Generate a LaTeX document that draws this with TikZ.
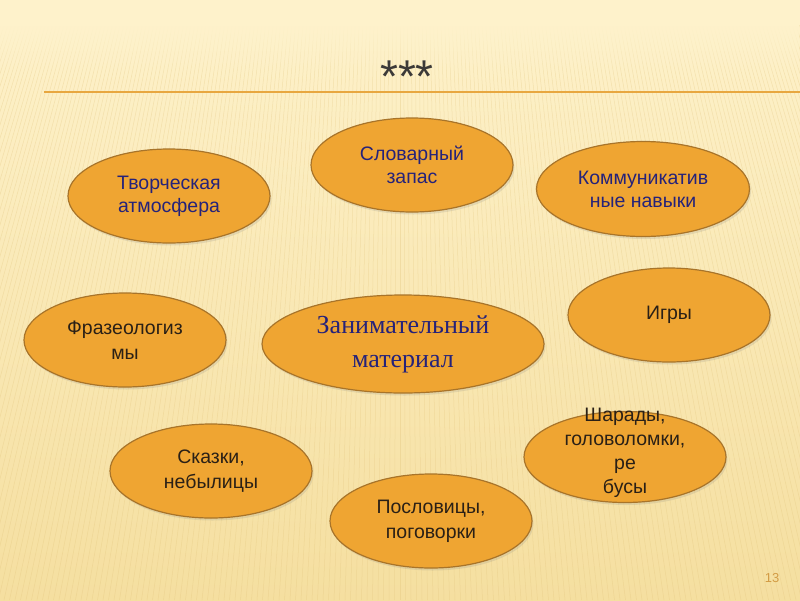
\documentclass[tikz,border=0pt]{standalone}
\usepackage{fontspec}
\setmainfont{Liberation Sans}
\newfontfamily\serifcyr{Liberation Serif}
\usetikzlibrary{positioning,shapes.geometric,shadows,fadings}

\definecolor{bgtop}{HTML}{FEF2CB}
\definecolor{bgbottom}{HTML}{F5DFA0}
\definecolor{stripe}{HTML}{E0C178}
\definecolor{bubblefill}{HTML}{EFA532}
\definecolor{bubbleline}{HTML}{A8742A}
\definecolor{navytext}{HTML}{25227A}
\definecolor{darktext}{HTML}{2A2016}
\definecolor{titletext}{HTML}{3C3A38}
\definecolor{rulecolor}{HTML}{E8A740}
\definecolor{pagenum}{HTML}{D39C45}

\begin{document}
\begin{tikzpicture}[x=1pt, y=-1pt,
  bubble/.style={draw=bubbleline, line width=1.2pt, fill=bubblefill, ellipse,
    minimum width=202pt, minimum height=94pt, inner sep=0pt, align=center,
    drop shadow={opacity=0.18, shadow xshift=1.5pt, shadow yshift=-2.5pt}},
  navy/.style={text=navytext, font=\fontsize{19.5}{23}\selectfont},
  dark/.style={text=darktext, font=\fontsize{19.5}{25}\selectfont}]
  % background with fanned stripes
  \shade[top color=bgtop, bottom color=bgbottom] (0,0) rectangle (800,600);
  \begin{scope}
    \clip (0,0) rectangle (800,600);
    \foreach \i in {-160,...,160}
      \draw[stripe, line width=0.5pt, opacity=0.32] (400+\i*1.2,-800) -- (400+\i*5.5,600);
  \end{scope}
  \fill[bgtop] (0,0) rectangle (800,25);
  \fill[bgtop, path fading=south] (0,25) rectangle (800,75);
  \useasboundingbox (0,0) rectangle (800,600);

  % title and rule
  \node[text=titletext, font=\fontsize{46}{50}\selectfont] (title) at (407,77) {***};
  \coordinate (ruleL) at (44,92);
  \coordinate (ruleR) at (800,92);
  \draw[rulecolor, line width=2pt] (ruleL) -- (ruleR);

  % bubbles
  \node[bubble, navy] (tvorch) at (169,196) {Творческая\\атмосфера};
  \node[bubble, navy] (slovar) at (412,165) {Словарный\\запас};
  \node[bubble, navy, minimum width=213pt, minimum height=95pt] (kommun) at (643,189) {Коммуникатив\\ные навыки};
  \node[bubble, dark] (frazeo) at (125,340) {Фразеологиз\\мы};
  \node[bubble, minimum width=282pt, minimum height=98pt, text=navytext,
    font=\serifcyr\fontsize{26}{34}\selectfont] (zanim) at (403,344) {Занимательный\\материал};
  \node[bubble, dark] (igry) at (669,315) {Игры};
  \node[bubble, dark] (skazki) at (211,471) {Сказки,\\небылицы};
  \node[bubble, dark] (poslov) at (431,521) {Пословицы,\\поговорки};
  \node[bubble, minimum height=91pt] (sharady) at (625,457) {};
  \node[dark, align=center, font=\fontsize{19.5}{24}\selectfont] (sharadytxt) at (625,453) {Шарады,\\головоломки,\\ре\\бусы};

  % page number
  \node[text=pagenum, font=\fontsize{13}{15}\selectfont] (pagenum) at (772,578) {13};
\end{tikzpicture}
\end{document}
